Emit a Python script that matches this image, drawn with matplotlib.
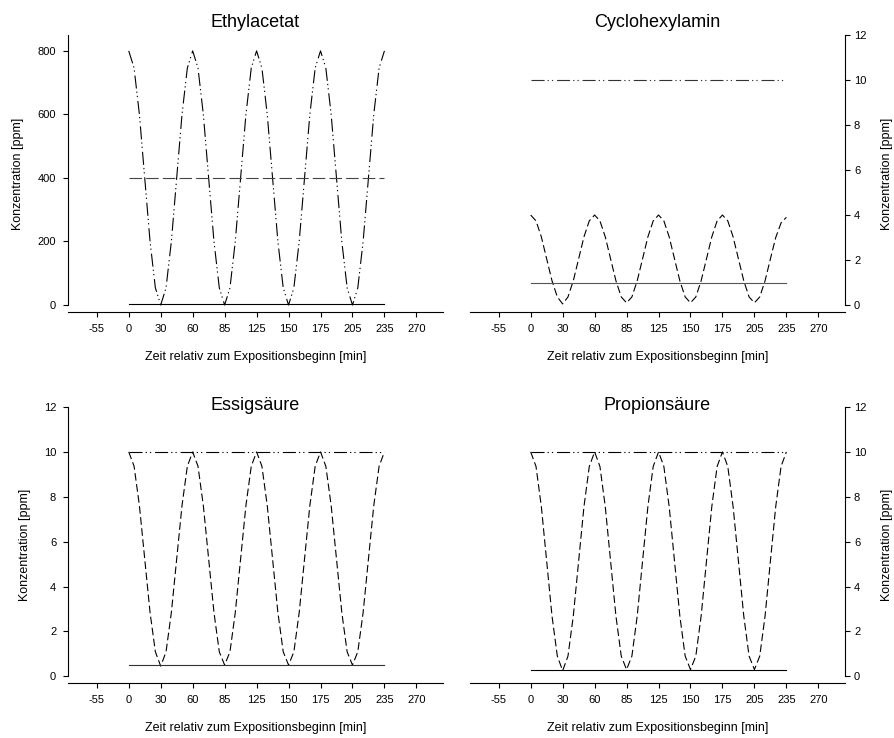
import matplotlib
matplotlib.use('Agg')
import matplotlib.pyplot as plt

plt.rcParams['font.family'] = ['Liberation Sans', 'DejaVu Sans']
plt.rcParams['lines.scale_dashes'] = False

# time axis positions (minutes), ticks are spaced 30 apart
zeit = list(range(0, 245, 5))
tickPos = [-30, 0, 30, 60, 90, 120, 150, 180, 210, 240, 270]
tickLabels = ['-55', '0', '30', '60', '85', '125', '150', '175', '205', '235', '270']

# Ethylacetat [ppm]
ethyl_schwankend = [800, 746, 600, 400, 200, 54, 0,
                    54, 200, 400, 600, 746, 800,
                    746, 600, 400, 200, 54, 0,
                    54, 200, 400, 600, 746, 800,
                    746, 600, 400, 200, 54, 0,
                    54, 200, 400, 600, 746, 800,
                    746, 600, 400, 200, 54, 0,
                    54, 200, 400, 600, 746, 800]
ethyl_konstant = 400
ethyl_kontrolle = 3

# Cyclohexylamin [ppm]
cyclo_schwankend = [4.0, 3.74, 3.03, 2.05, 1.08, 0.36, 0.05,
                    0.36, 1.08, 2.05, 3.03, 3.74, 4.0,
                    3.74, 3.03, 2.05, 1.08, 0.36, 0.1,
                    0.36, 1.08, 2.05, 3.03, 3.74, 4.0,
                    3.74, 3.03, 2.05, 1.08, 0.36, 0.1,
                    0.36, 1.08, 2.05, 3.03, 3.74, 4.0,
                    3.74, 3.03, 2.05, 1.08, 0.36, 0.1,
                    0.36, 1.08, 2.05, 3.0, 3.65, 3.9]
cyclo_konstant = 10
cyclo_kontrolle = 1

# Essigsaeure [ppm]
essig_schwankend = [10, 9.36, 7.61, 5.23, 2.84, 1.09, 0.45,
                    1.09, 2.84, 5.23, 7.61, 9.36, 10,
                    9.36, 7.61, 5.23, 2.84, 1.09, 0.5,
                    1.09, 2.84, 5.23, 7.61, 9.36, 10,
                    9.36, 7.61, 5.23, 2.84, 1.09, 0.5,
                    1.09, 2.84, 5.23, 7.61, 9.36, 10,
                    9.36, 7.61, 5.23, 2.84, 1.09, 0.5,
                    1.09, 2.84, 5.23, 7.61, 9.36, 10]
essig_konstant = 10
essig_kontrolle = 0.5

# Propionsaeure [ppm]
propion_schwankend = [10, 9.35, 7.56, 5.13, 2.69, 0.90, 0.25,
                      0.90, 2.69, 5.13, 7.56, 9.35, 10,
                      9.35, 7.56, 5.13, 2.69, 0.90, 0.3,
                      0.90, 2.69, 5.13, 7.56, 9.35, 10,
                      9.35, 7.56, 5.13, 2.69, 0.90, 0.3,
                      0.90, 2.69, 5.13, 7.56, 9.35, 10,
                      9.35, 7.56, 5.13, 2.69, 0.90, 0.3,
                      0.90, 2.69, 5.13, 7.56, 9.35, 10]
propion_konstant = 10
propion_kontrolle = 0.3

DASHDOTDOT = (0, (9.4, 2.2, 0.9, 2.2, 0.9, 2.8))
DASHED = (0, (5.5, 2.5))
LONGDASH = (0, (9.0, 3.0))


def setupAxes(ax, title, yticks, ymax, yoff, right, titleY, titlePad, ylabelX):
    ax.set_xlim(-57, 295)
    ax.set_ylim(yoff, ymax)
    ax.set_xticks(tickPos)
    ax.set_xticklabels(tickLabels)
    ax.set_yticks(yticks)
    ax.tick_params(labelsize=8, length=3.5, width=0.8, direction='out')
    ax.tick_params(axis='x', pad=5)
    ax.spines['top'].set_visible(False)
    for s in ['left', 'right', 'bottom']:
        ax.spines[s].set_linewidth(0.8)
    if right:
        ax.spines['left'].set_visible(False)
        ax.yaxis.tick_right()
        ax.yaxis.set_label_position('right')
        ax.spines['right'].set_bounds(0, ymax)
        ax.tick_params(axis='y', pad=3)
    else:
        ax.spines['right'].set_visible(False)
        ax.spines['left'].set_bounds(0, ymax)
        ax.tick_params(axis='y', pad=5)
    ax.set_ylabel('Konzentration [ppm]', fontsize=9)
    ax.yaxis.set_label_coords(ylabelX, 0.5)
    ax.set_xlabel('Zeit relativ zum Expositionsbeginn [min]', fontsize=9)
    ax.xaxis.set_label_coords(0.5, -0.14)
    ax.set_title(title, fontsize=13, y=titleY, pad=titlePad)


def drawLines(ax, curve, curveStyle, konstant, konstStyle, kontrolle, konstColor='black', kontrColor='black'):
    start, end = zeit[0], zeit[-1]
    ax.plot(zeit, curve, color='black', lw=0.8, linestyle=curveStyle)
    ax.plot([start, end], [konstant, konstant], color=konstColor, lw=0.8, linestyle=konstStyle)
    ax.plot([start, end], [kontrolle, kontrolle], color=kontrColor, lw=0.8, linestyle='-')


fig = plt.figure(figsize=(8.95, 7.38), dpi=100)
axTL = fig.add_axes([0.0760, 0.5772, 0.4190, 0.3754])
axTR = fig.add_axes([0.5251, 0.5772, 0.4190, 0.3754])
axBL = fig.add_axes([0.0760, 0.0745, 0.4190, 0.3740])
axBR = fig.add_axes([0.5251, 0.0745, 0.4190, 0.3740])

drawLines(axTL, ethyl_schwankend, DASHDOTDOT, ethyl_konstant, LONGDASH, ethyl_kontrolle, konstColor='#444444')
setupAxes(axTL, 'Ethylacetat', [0, 200, 400, 600, 800], 850, -22, False, 1.0, 6, -0.117)

drawLines(axTR, cyclo_schwankend, DASHED, cyclo_konstant, DASHDOTDOT, cyclo_kontrolle, konstColor='#333333', kontrColor='#555555')
setupAxes(axTR, 'Cyclohexylamin', [0, 2, 4, 6, 8, 10, 12], 12, -0.31, True, 1.0, 6, 1.097)

drawLines(axBL, essig_schwankend, DASHED, essig_konstant, DASHDOTDOT, essig_kontrolle, kontrColor='#333333')
setupAxes(axBL, 'Essigsäure', [0, 2, 4, 6, 8, 10, 12], 12, -0.3, False, 0.99, 0, -0.099)

drawLines(axBR, propion_schwankend, DASHED, propion_konstant, DASHDOTDOT, propion_kontrolle)
setupAxes(axBR, 'Propionsäure', [0, 2, 4, 6, 8, 10, 12], 12, -0.3, True, 0.99, 0, 1.097)

fig.savefig('out.png', dpi=100)
